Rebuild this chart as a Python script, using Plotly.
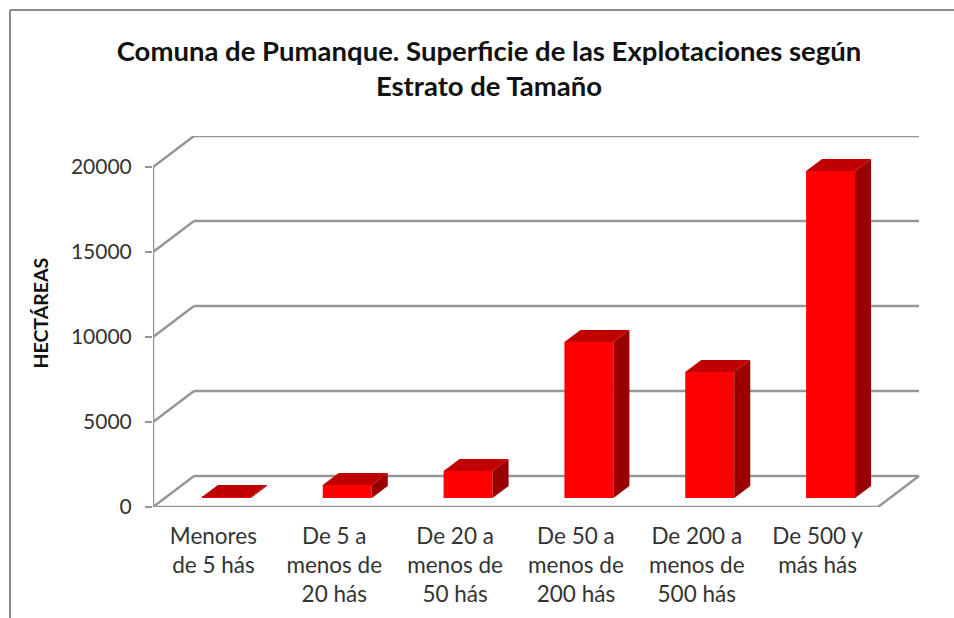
import plotly.graph_objects as go

categories = ["Menores<br>de 5 hás", "De 5 a<br>menos de<br>20 hás", "De 20 a<br>menos de<br>50 hás",
              "De 50 a<br>menos de<br>200 hás", "De 200 a<br>menos de<br>500 hás", "De 500 y<br>más hás"]
values = [60, 765, 1590, 9180, 7410, 19240]
y_ticks = [0, 5000, 10000, 15000, 20000]
title = "Comuna de Pumanque. Superficie de las Explotaciones según<br>Estrato de Tamaño"
y_title = "HECTÁREAS"

W, H = 954, 618
L, R, T, B = 153, 920, 136, 507      # plot area in page pixels
PITCH = (878 - 153) / 6
UNIT = 5000 / 85                      # y units per pixel
x_of = lambda px: px / PITCH
y_of = lambda px: px * UNIT

wall_dx, wall_dy = x_of(41), y_of(31)
depth_dx, depth_dy = x_of(16), y_of(12)
bar_w = x_of(49)
bar_base = y_of(9)
bar_shift = x_of(13)
centers = [i + 0.5 + bar_shift for i in range(len(values))]
n = len(values)
GRID = "#969696"

shapes = []
def seg(x0, y0, x1, y1):
    shapes.append(dict(type="line", xref="x", yref="y", x0=x0, y0=y0, x1=x1, y1=y1,
                       layer="below", line=dict(color=GRID, width=2.5)))

for t in y_ticks:
    seg(0, t, wall_dx, t + wall_dy)
    seg(wall_dx, t + wall_dy, n + wall_dx, t + wall_dy)
seg(0, 0, 0, y_ticks[-1])
seg(0, 0, n, 0)
seg(n, 0, n + wall_dx, wall_dy)

# page frame
def px_x(p): return (p - L) / (R - L)
def px_y(p): return (B - p) / (B - T)
for x0, y0, x1, y1 in [(10, 10, 954, 10), (10, 10, 10, 618)]:
    shapes.append(dict(type="line", xref="paper", yref="paper", x0=px_x(x0), y0=px_y(y0),
                       x1=px_x(x1), y1=px_y(y1), line=dict(color="#8a8a8a", width=2)))

side_x, side_y, top_x, top_y = [], [], [], []
for c, v in zip(centers, values):
    l, r = c - bar_w / 2, c + bar_w / 2
    b, t = bar_base, bar_base + v
    side_x += [r, r + depth_dx, r + depth_dx, r, r, None]
    side_y += [b, b + depth_dy, t + depth_dy, t, b, None]
    top_x += [l, r, r + depth_dx, l + depth_dx, l, None]
    top_y += [t, t, t + depth_dy, t + depth_dy, t, None]

fig = go.Figure()
fig.add_bar(x=centers, y=values, base=bar_base, width=bar_w, marker=dict(color="#ff0000", line_width=0),
            showlegend=False, hoverinfo="skip")
fig.add_scatter(x=side_x, y=side_y, mode="lines", fill="toself", fillcolor="#990000", line=dict(width=0),
                showlegend=False, hoverinfo="skip")
fig.add_scatter(x=top_x, y=top_y, mode="lines", fill="toself", fillcolor="#c00000", line=dict(width=0),
                showlegend=False, hoverinfo="skip")

FONT = "Lato"
fig.update_layout(
    width=W, height=H, margin=dict(l=L, r=W - R, t=T, b=H - B),
    paper_bgcolor="white", plot_bgcolor="white", showlegend=False, shapes=shapes,
    font=dict(family=FONT, color="#333333", size=20),
    title=dict(text="<b>" + title + "</b>", x=489 / W, xanchor="center", y=1 - 60.5 / H, yanchor="middle",
               font=dict(family=FONT, size=27.5, color="#111111")),
    xaxis=dict(range=[0, x_of(R - L)], tickvals=[i + 0.5 for i in range(n)], ticktext=categories,
               tickfont=dict(size=22.5), showgrid=False, zeroline=False, showline=False, ticks="",
               ticklabelstandoff=13, automargin=False, fixedrange=True),
    yaxis=dict(range=[0, y_of(B - T)], tickvals=y_ticks, ticktext=[str(t) for t in y_ticks],
               tickfont=dict(size=21), showgrid=False, zeroline=False, showline=False, ticks="outside",
               ticklen=7, tickwidth=2, tickcolor=GRID, ticklabelstandoff=9, automargin=False, fixedrange=True),
    annotations=[dict(text="<b>" + y_title + "</b>", textangle=-90, xref="paper", yref="paper",
                      x=px_x(39.5), y=px_y(313), showarrow=False, xanchor="center", yanchor="middle",
                      font=dict(family=FONT, size=19.5, color="#111111"))],
)
fig.write_html("out.html", config=dict(displayModeBar=False), post_script="document.body.style.margin='0';")
